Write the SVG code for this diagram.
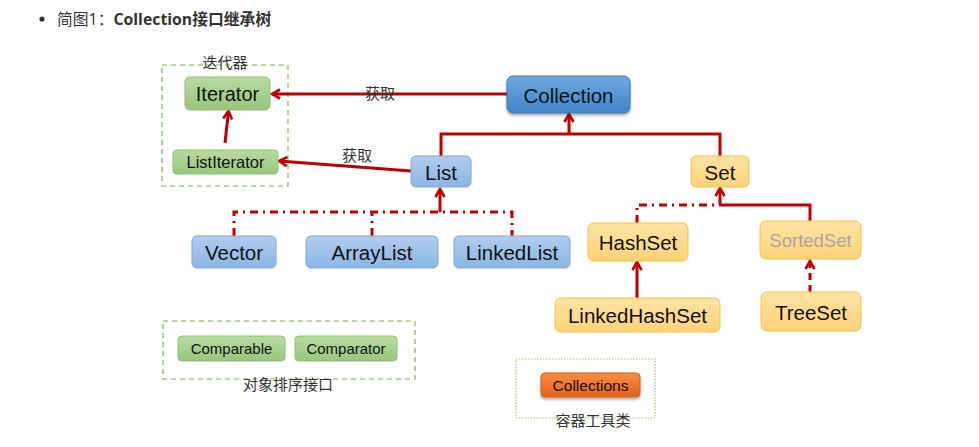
<svg xmlns="http://www.w3.org/2000/svg" width="979" height="447" viewBox="0 0 979 447">
<style>
.n{font-family:"Liberation Sans",Arial,sans-serif;fill:#111;text-anchor:middle;dominant-baseline:central}
.cj{font-family:"Noto Sans CJK SC",sans-serif;fill:#333;text-anchor:middle;font-size:15px}
.g{fill:url(#gG);stroke:#8dbf70;stroke-width:1}
.b{fill:url(#gB);stroke:#7aa7d8;stroke-width:1}
.bd{fill:url(#gBD);stroke:#3b78b8;stroke-width:1}
.o{fill:url(#gO);stroke:#f2c141;stroke-width:1}
.r{fill:none;stroke:#c00000;stroke-width:3}
.dd{stroke-dasharray:8,5,2,5}
.ds{stroke-dasharray:7,5}
.grp{fill:none;stroke:#7ab648;stroke-width:1.2;stroke-dasharray:5,4}
</style>
<defs>
<linearGradient id="gG" x1="0" y1="0" x2="0" y2="1"><stop offset="0" stop-color="#b8dba3"/><stop offset="1" stop-color="#98c67c"/></linearGradient>
<linearGradient id="gB" x1="0" y1="0" x2="0" y2="1"><stop offset="0" stop-color="#b1cdee"/><stop offset="1" stop-color="#8bb5e3"/></linearGradient>
<linearGradient id="gBD" x1="0" y1="0" x2="0" y2="1"><stop offset="0" stop-color="#6fa8e0"/><stop offset="1" stop-color="#3f85c8"/></linearGradient>
<linearGradient id="gO" x1="0" y1="0" x2="0" y2="1"><stop offset="0" stop-color="#ffe3a3"/><stop offset="1" stop-color="#ffd278"/></linearGradient>
<linearGradient id="gOR" x1="0" y1="0" x2="0" y2="1"><stop offset="0" stop-color="#f88e40"/><stop offset="1" stop-color="#e4621a"/></linearGradient>
<filter id="sh" x="-20%" y="-30%" width="140%" height="170%"><feDropShadow dx="0" dy="2" stdDeviation="1.5" flood-color="#000" flood-opacity="0.35"/></filter>
<marker id="ar" viewBox="0 0 12 12" refX="10" refY="6" markerWidth="12" markerHeight="12" markerUnits="userSpaceOnUse" orient="auto">
<path d="M2,1.5 L10,6 L2,10.5" fill="none" stroke="#c00000" stroke-width="2.6"/>
</marker>
</defs>
<rect width="979" height="447" fill="#fff"/>
<g id="title">
<circle cx="42" cy="19" r="2.6" fill="#333"/>
<text x="57" y="25" font-family="'Open Sans','Noto Sans CJK SC',sans-serif" font-size="15.8" fill="#333">简图1：<tspan font-weight="bold">Collection接口继承树</tspan></text>
</g>
<g id="groups">
<rect class="grp" x="162" y="65" width="126" height="121"/>
<text class="cj" x="225" y="68">迭代器</text>
<rect class="grp" x="163" y="321" width="252" height="58"/>
<text class="cj" x="288" y="390">对象排序接口</text>
<rect x="516" y="359" width="139" height="59" fill="none" stroke="#92d050" stroke-width="1.2" stroke-dasharray="1.5,1.5"/>
<text class="cj" x="593" y="426">容器工具类</text>
</g>
<g id="connectors">
<line class="r" x1="507" y1="94" x2="272" y2="94" marker-end="url(#ar)"/>
<line class="r" x1="411" y1="171" x2="279" y2="161" marker-end="url(#ar)"/>
<line class="r" x1="225" y1="143" x2="228.5" y2="111" marker-end="url(#ar)"/>
<polyline class="r" points="441,156 441,134 720,134 720,157"/>
<line class="r" x1="569" y1="134" x2="569" y2="114" marker-end="url(#ar)"/>
<polyline class="r dd" points="234,236 234,212 512,212 512,236"/>
<line class="r dd" x1="372" y1="236" x2="372" y2="212"/>
<line class="r" x1="440" y1="212" x2="440" y2="189" marker-end="url(#ar)"/>
<polyline class="r dd" points="637,223 637,205 720,205"/>
<polyline class="r" points="810,221 810,205 720,205"/>
<line class="r" x1="720" y1="205" x2="720" y2="188" marker-end="url(#ar)"/>
<line class="r" x1="637" y1="298" x2="637" y2="262" marker-end="url(#ar)"/>
<line class="r ds" x1="810" y1="292" x2="810" y2="261" marker-end="url(#ar)"/>
</g>
<g id="labels">
<text class="cj" x="380" y="99">获取</text>
<text class="cj" x="357" y="161">获取</text>
</g>
<g id="Iterator"><rect class="g" x="185" y="77" width="85" height="33" rx="5"/><text class="n" x="227.5" y="94" font-size="20">Iterator</text></g>
<g id="ListIterator"><rect class="g" x="173" y="150" width="105" height="24" rx="4"/><text class="n" x="225.5" y="162" font-size="16.5">ListIterator</text></g>
<g id="Collection"><rect class="bd" x="507" y="76" width="123" height="37" rx="6" filter="url(#sh)"/><text class="n" x="568.5" y="95" font-size="20.5">Collection</text></g>
<g id="List"><rect class="b" x="411" y="156" width="60" height="31" rx="5"/><text class="n" x="441" y="172" font-size="20.5">List</text></g>
<g id="Set"><rect class="o" x="691" y="156" width="58" height="31" rx="5"/><text class="n" x="720" y="172" font-size="20.5">Set</text></g>
<g id="Vector"><rect class="b" x="192" y="236" width="84" height="32" rx="5"/><text class="n" x="234" y="252" font-size="20.5">Vector</text></g>
<g id="ArrayList"><rect class="b" x="306" y="236" width="132" height="32" rx="5"/><text class="n" x="372" y="252" font-size="20.5">ArrayList</text></g>
<g id="LinkedList"><rect class="b" x="454" y="236" width="116" height="32" rx="5"/><text class="n" x="512" y="252" font-size="20.5">LinkedList</text></g>
<g id="HashSet"><rect class="o" x="588" y="223" width="100" height="38" rx="6"/><text class="n" x="638" y="242" font-size="20.5">HashSet</text></g>
<g id="SortedSet"><rect class="o" x="760" y="221" width="101" height="38" rx="6"/><text class="n" x="810.5" y="240" font-size="18.5" style="fill:#a6a6a6">SortedSet</text></g>
<g id="LinkedHashSet"><rect class="o" x="555" y="298" width="165" height="34" rx="6"/><text class="n" x="637.5" y="315" font-size="20.5">LinkedHashSet</text></g>
<g id="TreeSet"><rect class="o" x="761" y="292" width="100" height="39" rx="6"/><text class="n" x="811" y="312" font-size="20.5">TreeSet</text></g>
<g id="Comparable"><rect class="g" x="178" y="336" width="107" height="25" rx="4"/><text class="n" x="231.5" y="348.5" font-size="15">Comparable</text></g>
<g id="Comparator"><rect class="g" x="295" y="336" width="102" height="25" rx="4"/><text class="n" x="346" y="348.5" font-size="15">Comparator</text></g>
<g id="Collections"><rect x="541" y="373" width="99" height="24" rx="4" fill="url(#gOR)" stroke="#d9601c" stroke-width="1" filter="url(#sh)"/><text class="n" x="590.5" y="385" font-size="15.5">Collections</text></g>
</svg>
